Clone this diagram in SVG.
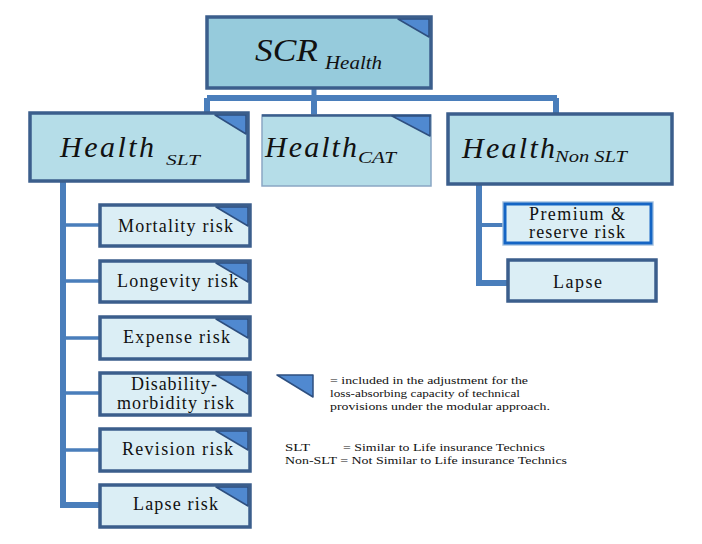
<svg xmlns="http://www.w3.org/2000/svg" width="702" height="544" viewBox="0 0 702 544">
<style>
.big{font-style:italic;fill:#111}
.lbl{font-size:18px;fill:#111;text-anchor:middle}
.leg{font-size:11px;fill:#111}
.main{fill:#b5dde8;stroke:#3b5e8c;stroke-width:3.5}
.risk{fill:#dbeef5;stroke:#3b5e8c;stroke-width:3.5}
.tri{fill:#5089d0;stroke:#2e4f7f;stroke-width:1.5;stroke-linejoin:round}
.con{fill:none;stroke:#4a7ebb;stroke-linejoin:miter}
</style>
<rect width="702" height="544" fill="#fff"/>
<g id="connectors">
<path class="con" stroke-width="5" d="M314,88 V98"/>
<path class="con" stroke-width="6" d="M207,98 H557 M207,98 V113 M314,98 V115 M556,98 V114"/>
<path class="con" stroke-width="6" d="M63,182 V505 H101"/>
<path class="con" stroke-width="3.5" d="M63,225 H100 M63,281 H100 M63,338 H100 M63,393 H100 M63,450 H100"/>
<path class="con" stroke-width="6" d="M479,185 V283 H508"/>
<path class="con" stroke-width="4" d="M479,225 H504"/>
</g>
<g id="scr">
<rect x="207" y="17" width="224" height="71" fill="#96cbdc" stroke="#3b5e8c" stroke-width="3.5"/>
<path class="tri" d="M398,19 L429,19 L429,37 Z"/>
<text class="big" font-family="Liberation Serif" x="255" y="61" font-size="32" textLength="63" lengthAdjust="spacingAndGlyphs">SCR</text>
<text class="big" font-family="Liberation Serif" x="325" y="69" font-size="18" textLength="57" lengthAdjust="spacingAndGlyphs">Health</text>
</g>
<g id="health-slt">
<rect class="main" x="30" y="113" width="218" height="68"/>
<path class="tri" d="M215,115 L246,115 L246,134 Z"/>
<text class="big" font-family="Liberation Serif" x="60" y="157" font-size="30" textLength="94" lengthAdjust="spacing">Health</text>
<text class="big" font-family="Liberation Serif" x="166" y="165" font-size="15" textLength="34" lengthAdjust="spacingAndGlyphs">SLT</text>
</g>
<g id="health-cat">
<rect x="262" y="115" width="169" height="71" fill="#b5dde8" stroke="#8aa6c4" stroke-width="1.5"/>
<path d="M262,115.5 H431" stroke="#3b5e8c" stroke-width="2.5"/>
<path class="tri" d="M392,116 L430,116 L430,136 Z"/>
<text class="big" font-family="Liberation Serif" x="265" y="157" font-size="30" textLength="92" lengthAdjust="spacing">Health</text>
<text class="big" font-family="Liberation Serif" x="358" y="163" font-size="17" textLength="38" lengthAdjust="spacingAndGlyphs">CAT</text>
</g>
<g id="health-nonslt">
<rect class="main" x="448" y="114" width="224" height="70"/>
<text class="big" font-family="Liberation Serif" x="462" y="158" font-size="30" textLength="93" lengthAdjust="spacing">Health</text>
<text class="big" font-family="Liberation Serif" x="555" y="162" font-size="17" textLength="72" lengthAdjust="spacingAndGlyphs">Non SLT</text>
</g>
<g id="premium">
<rect x="503" y="202" width="150" height="43" fill="#dbeef5" stroke="#a9c4e0" stroke-width="1.5"/>
<rect x="505" y="204" width="146" height="39" fill="none" stroke="#1565c4" stroke-width="3"/>
<text class="lbl" font-family="Liberation Serif" x="577" y="220" font-size="15" textLength="96" lengthAdjust="spacing">Premium &amp;</text>
<text class="lbl" font-family="Liberation Serif" x="577" y="238" font-size="15" textLength="96" lengthAdjust="spacing">reserve risk</text>
</g>
<g id="lapse">
<rect class="risk" x="508" y="260" width="148" height="41"/>
<text class="lbl" font-family="Liberation Serif" x="577.5" y="288" textLength="49" lengthAdjust="spacing">Lapse</text>
</g>
<g id="mortality">
<rect class="risk" x="100" y="205" width="150" height="41"/>
<path class="tri" d="M216,207 L248,207 L248,226 Z"/>
<text class="lbl" font-family="Liberation Serif" x="175.5" y="232" textLength="115" lengthAdjust="spacing">Mortality risk</text>
</g>
<g id="longevity">
<rect class="risk" x="100" y="261" width="150" height="41"/>
<path class="tri" d="M216,263 L248,263 L248,282 Z"/>
<text class="lbl" font-family="Liberation Serif" x="177.5" y="287" textLength="121" lengthAdjust="spacing">Longevity risk</text>
</g>
<g id="expense">
<rect class="risk" x="100" y="317" width="150" height="42"/>
<path class="tri" d="M216,319 L248,319 L248,338 Z"/>
<text class="lbl" font-family="Liberation Serif" x="176.5" y="343" textLength="107" lengthAdjust="spacing">Expense risk</text>
</g>
<g id="disability">
<rect class="risk" x="100" y="373" width="150" height="42"/>
<path class="tri" d="M216,375 L248,375 L248,394 Z"/>
<text class="lbl" font-family="Liberation Serif" x="174" y="390" font-size="15" textLength="86" lengthAdjust="spacing">Disability-</text>
<text class="lbl" font-family="Liberation Serif" x="175.5" y="409" font-size="15" textLength="117" lengthAdjust="spacing">morbidity risk</text>
</g>
<g id="revision">
<rect class="risk" x="100" y="429" width="150" height="42"/>
<path class="tri" d="M216,431 L248,431 L248,450 Z"/>
<text class="lbl" font-family="Liberation Serif" x="177.5" y="455" textLength="111" lengthAdjust="spacing">Revision risk</text>
</g>
<g id="lapse-risk">
<rect class="risk" x="100" y="485" width="150" height="42"/>
<path class="tri" d="M216,487 L248,487 L248,506 Z"/>
<text class="lbl" font-family="Liberation Serif" x="175.5" y="510" textLength="85" lengthAdjust="spacing">Lapse risk</text>
</g>
<g id="legend">
<path class="tri" d="M277,375 L313,375 L313,397 Z" stroke-width="2"/>
<text class="leg" font-family="Liberation Serif" x="330" y="384" textLength="198" lengthAdjust="spacingAndGlyphs">= included in the adjustment for the</text>
<text class="leg" font-family="Liberation Serif" x="330" y="397" textLength="190" lengthAdjust="spacingAndGlyphs">loss-absorbing capacity of technical</text>
<text class="leg" font-family="Liberation Serif" x="330" y="410" textLength="220" lengthAdjust="spacingAndGlyphs">provisions under the modular approach.</text>
<text class="leg" font-family="Liberation Serif" x="285" y="451" textLength="25" lengthAdjust="spacingAndGlyphs">SLT</text>
<text class="leg" font-family="Liberation Serif" x="343" y="451" textLength="202" lengthAdjust="spacingAndGlyphs">= Similar to Life insurance Technics</text>
<text class="leg" font-family="Liberation Serif" x="285" y="464" textLength="282" lengthAdjust="spacingAndGlyphs">Non-SLT = Not Similar to Life insurance Technics</text>
</g>
</svg>
